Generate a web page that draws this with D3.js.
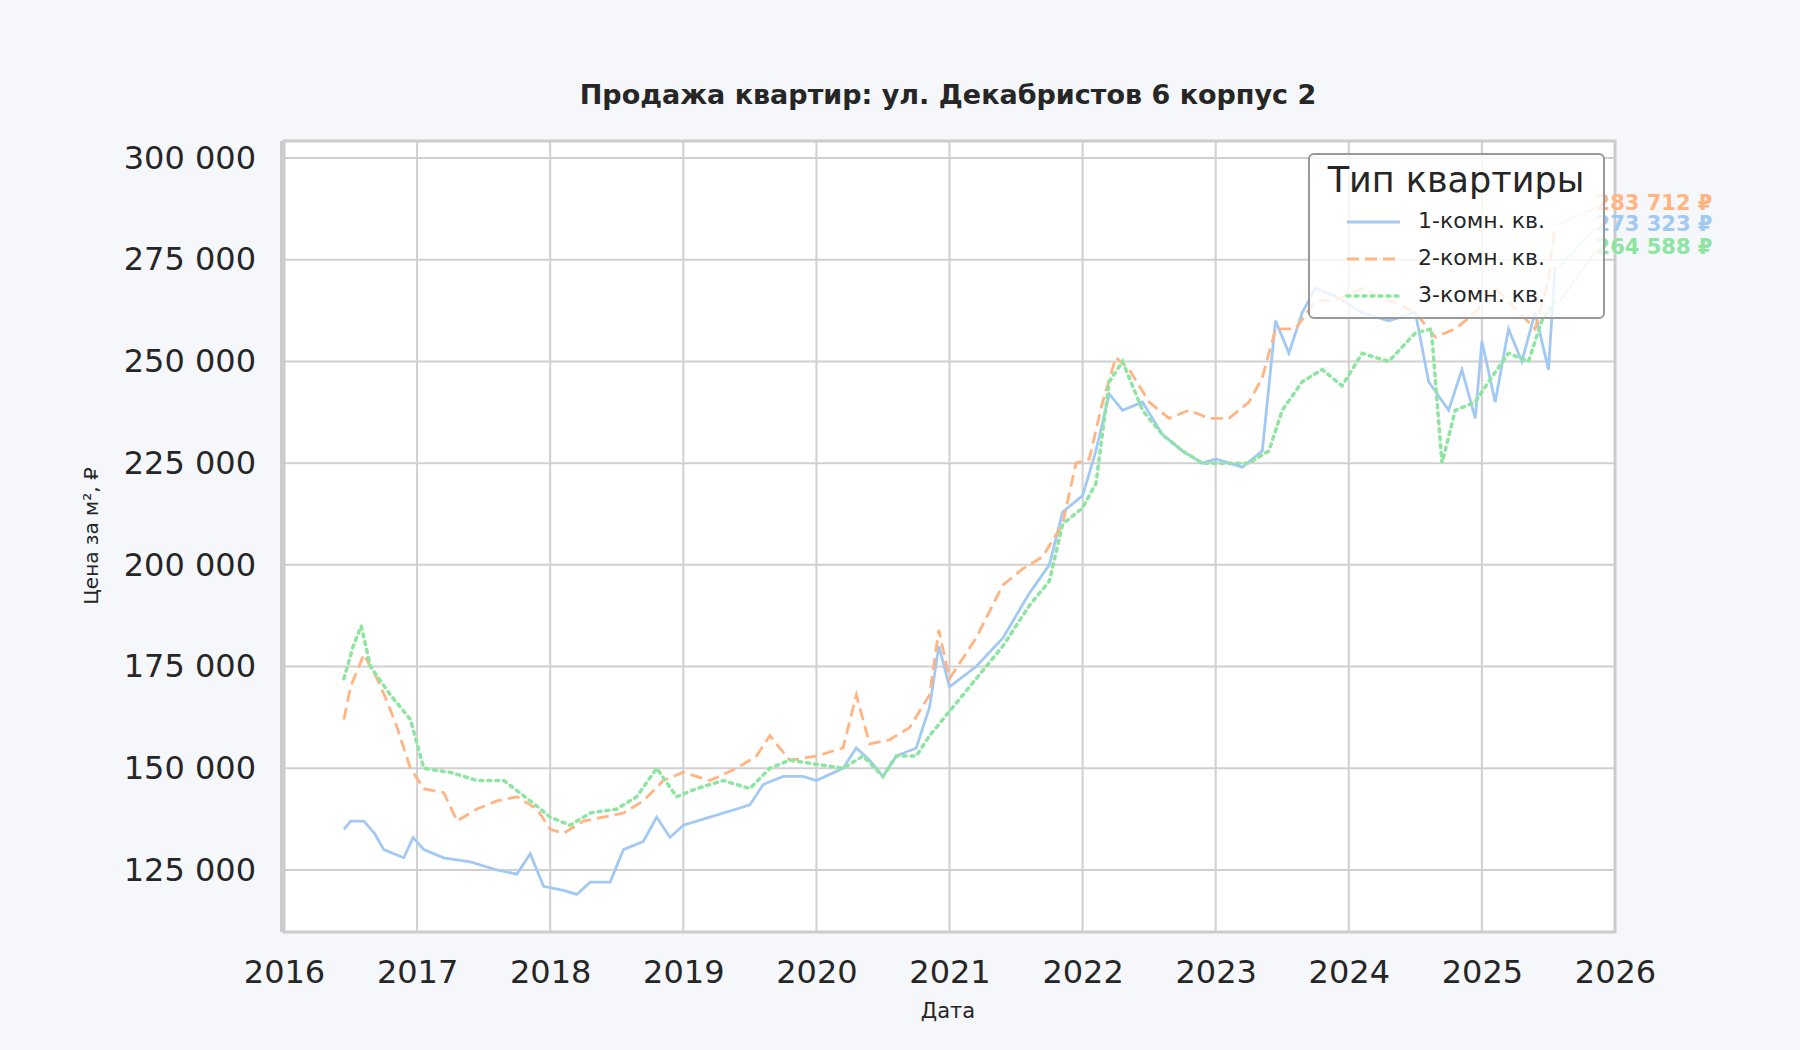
<!DOCTYPE html>
<html><head><meta charset="utf-8">
<script src="https://cdn.jsdelivr.net/npm/d3@7"></script>
<style>body{margin:0;background:#f5f7fa;} text{font-family:"DejaVu Sans";}</style>
</head><body>
<svg id="c" width="1800" height="1050"></svg>
<script>
// [год, цена за м²]
const oneRoom = [[2016.45,135000],[2016.5,137000],[2016.6,137000],[2016.68,134000],[2016.75,130000],[2016.9,128000],[2016.97,133000],[2017.05,130000],[2017.2,128000],[2017.4,127000],[2017.6,125000],[2017.75,124000],[2017.85,129000],[2017.95,121000],[2018.1,120000],[2018.2,119000],[2018.3,122000],[2018.45,122000],[2018.55,130000],[2018.7,132000],[2018.8,138000],[2018.9,133000],[2019.0,136000],[2019.2,138000],[2019.4,140000],[2019.5,141000],[2019.6,146000],[2019.75,148000],[2019.9,148000],[2020.0,147000],[2020.2,150000],[2020.3,155000],[2020.4,152000],[2020.5,148000],[2020.6,153000],[2020.75,155000],[2020.85,165000],[2020.92,180000],[2021.0,170000],[2021.2,175000],[2021.4,182000],[2021.6,193000],[2021.75,200000],[2021.85,213000],[2022.0,217000],[2022.1,228000],[2022.2,242000],[2022.3,238000],[2022.45,240000],[2022.6,232000],[2022.75,228000],[2022.9,225000],[2023.0,226000],[2023.2,224000],[2023.35,228000],[2023.45,260000],[2023.55,252000],[2023.65,262000],[2023.75,268000],[2023.9,266000],[2024.1,262000],[2024.3,260000],[2024.5,262000],[2024.6,245000],[2024.75,238000],[2024.85,248000],[2024.95,236000],[2025.0,255000],[2025.1,240000],[2025.2,258000],[2025.3,250000],[2025.4,262000],[2025.5,248000],[2025.55,273323]];
const twoRoom = [[2016.45,162000],[2016.5,170000],[2016.6,178000],[2016.7,172000],[2016.78,166000],[2016.85,160000],[2016.95,150000],[2017.05,145000],[2017.2,144000],[2017.3,137000],[2017.45,140000],[2017.6,142000],[2017.75,143000],[2017.9,140000],[2018.0,135000],[2018.1,134000],[2018.25,137000],[2018.4,138000],[2018.55,139000],[2018.7,142000],[2018.85,147000],[2019.0,149000],[2019.2,147000],[2019.4,150000],[2019.55,153000],[2019.65,158000],[2019.8,152000],[2020.0,153000],[2020.2,155000],[2020.3,168000],[2020.4,156000],[2020.55,157000],[2020.7,160000],[2020.85,168000],[2020.92,184000],[2021.0,172000],[2021.2,182000],[2021.4,195000],[2021.55,199000],[2021.7,202000],[2021.85,210000],[2021.95,225000],[2022.05,226000],[2022.15,240000],[2022.25,251000],[2022.35,248000],[2022.5,240000],[2022.65,236000],[2022.8,238000],[2022.95,236000],[2023.1,236000],[2023.25,240000],[2023.35,246000],[2023.45,258000],[2023.6,258000],[2023.75,265000],[2023.9,265000],[2024.1,268000],[2024.3,265000],[2024.5,262000],[2024.65,256000],[2024.8,258000],[2024.95,262000],[2025.1,268000],[2025.25,263000],[2025.4,258000],[2025.5,270000],[2025.55,283712]];
const threeRoom = [[2016.45,172000],[2016.52,180000],[2016.58,185000],[2016.65,175000],[2016.8,168000],[2016.95,162000],[2017.05,150000],[2017.25,149000],[2017.45,147000],[2017.65,147000],[2017.85,142000],[2018.0,138000],[2018.15,136000],[2018.3,139000],[2018.5,140000],[2018.65,143000],[2018.8,150000],[2018.95,143000],[2019.1,145000],[2019.3,147000],[2019.5,145000],[2019.65,150000],[2019.8,152000],[2020.0,151000],[2020.2,150000],[2020.35,153000],[2020.5,148000],[2020.6,153000],[2020.75,153000],[2020.85,158000],[2021.0,164000],[2021.2,172000],[2021.4,180000],[2021.6,190000],[2021.75,196000],[2021.85,210000],[2022.0,214000],[2022.1,220000],[2022.2,245000],[2022.3,250000],[2022.45,238000],[2022.6,232000],[2022.75,228000],[2022.9,225000],[2023.05,225000],[2023.25,225000],[2023.4,228000],[2023.5,238000],[2023.65,245000],[2023.8,248000],[2023.95,244000],[2024.1,252000],[2024.3,250000],[2024.5,257000],[2024.62,258000],[2024.7,225000],[2024.8,238000],[2024.95,240000],[2025.05,245000],[2025.2,252000],[2025.35,250000],[2025.45,260000],[2025.55,264588]];
const seriesNames = ["1-комн. кв.","2-комн. кв.","3-комн. кв."];
const colors = ["#a1c9f4","#ffb482","#8de5a1"];
const dashes = [null,"12,6","3,5"];
const yTicks = [125000,150000,175000,200000,225000,250000,275000,300000];
const xTicks = d3.range(2016,2027);

const svg = d3.select("#c");
const m = {l:284,r:1615,t:141,b:932};
const x = d3.scaleLinear().domain([2016,2026]).range([m.l,m.r]);
const y = d3.scaleLinear().domain([109760,304180]).range([m.b,m.t]);
const fmt = v => d3.format(",")(v).replace(/,/g," ");

svg.append("rect").attr("x",m.l).attr("y",m.t).attr("width",m.r-m.l).attr("height",m.b-m.t).attr("fill","#fff");
svg.append("g").selectAll("line").data(yTicks).join("line")
  .attr("x1",m.l).attr("x2",m.r).attr("y1",y).attr("y2",y).attr("stroke","#d0d0d0").attr("stroke-width",2);
svg.append("g").selectAll("line").data(xTicks).join("line")
  .attr("y1",m.t).attr("y2",m.b).attr("x1",x).attr("x2",x).attr("stroke","#d0d0d0").attr("stroke-width",2);

const yAxis = svg.append("g").attr("transform",`translate(${m.l},0)`).call(d3.axisLeft(y).tickValues(yTicks).tickFormat(fmt).tickSize(0).tickPadding(28));
const xAxis = svg.append("g").attr("transform",`translate(0,${m.b})`).call(d3.axisBottom(x).tickValues(xTicks).tickFormat(d3.format("d")).tickSize(0).tickPadding(28));
[yAxis,xAxis].forEach(a=>{a.select(".domain").remove();a.selectAll("text").attr("font-size",32).attr("fill","#262626").attr("font-family","DejaVu Sans");});

const line = d3.line().x(d=>x(d[0])).y(d=>y(d[1]));
[oneRoom,twoRoom,threeRoom].forEach((s,i)=>{
  svg.append("path").datum(s).attr("d",line).attr("fill","none").attr("stroke",colors[i])
    .attr("stroke-width",i==2?3.5:2.8).attr("stroke-dasharray",dashes[i]).attr("stroke-linecap",i==2?"round":"butt");
});
svg.append("rect").attr("x",m.l).attr("y",m.t).attr("width",m.r-m.l).attr("height",m.b-m.t).attr("fill","none").attr("stroke","#cccccc").attr("stroke-width",3);
svg.append("line").attr("x1",m.l-2).attr("x2",m.l-2).attr("y1",m.t).attr("y2",m.b).attr("stroke","#cccccc").attr("stroke-width",4);

// подписи последних значений
const ann = [[twoRoom,204],[oneRoom,225],[threeRoom,248]];
const annIdx = [1,0,2];
ann.forEach(([s,ty],k)=>{
  const last = s[s.length-1], i = annIdx[k];
  svg.append("line").attr("x1",1595).attr("y1",ty+4).attr("x2",x(last[0])+4).attr("y2",y(last[1])).attr("stroke",colors[i]).attr("stroke-width",1.2);
  svg.append("text").attr("x",1654).attr("y",ty).attr("text-anchor","middle").attr("dominant-baseline","middle")
    .attr("font-size",21).attr("font-weight","bold").attr("fill",colors[i]).text(fmt(last[1])+" ₽");
});

// легенда
const lg = svg.append("g");
lg.append("rect").attr("x",1309).attr("y",154).attr("width",295).attr("height",164).attr("rx",5)
  .attr("fill","#fff").attr("fill-opacity",0.8).attr("stroke","#999").attr("stroke-width",2);
lg.append("text").attr("x",1456).attr("y",192).attr("text-anchor","middle").attr("font-size",35).attr("fill","#262626").text("Тип квартиры");
seriesNames.forEach((n,i)=>{
  const ly = 222+i*37;
  lg.append("line").attr("x1",1347).attr("x2",1400).attr("y1",ly).attr("y2",ly).attr("stroke",colors[i])
    .attr("stroke-width",i==2?3.5:2.8).attr("stroke-dasharray",dashes[i]).attr("stroke-linecap",i==2?"round":"butt");
  lg.append("text").attr("x",1418).attr("y",ly).attr("dominant-baseline","middle").attr("font-size",22).attr("fill","#262626").text(n);
});

svg.append("text").attr("x",948).attr("y",104).attr("text-anchor","middle").attr("font-family","'DejaVu Serif','Liberation Serif',serif")
  .attr("font-weight","bold").attr("font-size",27).attr("fill","#262626").text("Продажа квартир: ул. Декабристов 6 корпус 2");
svg.append("text").attr("x",948).attr("y",1018).attr("text-anchor","middle").attr("font-size",21).attr("fill","#262626").text("Дата");
svg.append("text").attr("transform","translate(98,536) rotate(-90)").attr("text-anchor","middle").attr("font-size",20).attr("fill","#262626").text("Цена за м², ₽");
</script>
</body></html>
